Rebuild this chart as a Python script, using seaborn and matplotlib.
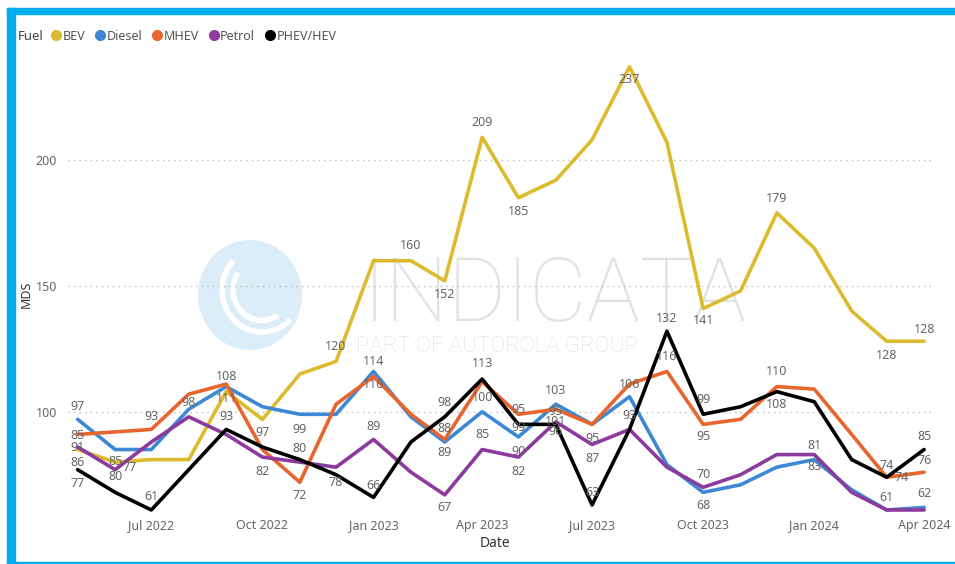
import matplotlib
matplotlib.use("Agg")
import matplotlib.pyplot as plt
import matplotlib.dates as mdates
from matplotlib.lines import Line2D
from matplotlib.patches import Rectangle, Ellipse, Arc
import seaborn as sns
import pandas as pd

# monthly MDS by fuel type, May 2022 - Apr 2024
months = ["2022-05", "2022-06", "2022-07", "2022-08", "2022-09", "2022-10",
          "2022-11", "2022-12", "2023-01", "2023-02", "2023-03", "2023-04",
          "2023-05", "2023-06", "2023-07", "2023-08", "2023-09", "2023-10",
          "2023-11", "2023-12", "2024-01", "2024-02", "2024-03", "2024-04"]
bev = [85, 80, 81, 81, 108, 97, 115, 120, 160, 160, 152, 209,
       185, 192, 208, 237, 207, 141, 148, 179, 165, 140, 128, 128]
diesel = [97, 85, 85, 101, 110, 102, 99, 99, 116, 98, 88, 100,
          90, 103, 95, 106, 79, 68, 71, 78, 81, 69, 61, 62]
mhev = [91, 92, 93, 107, 111, 85, 72, 103, 114, 99, 89, 112,
        99, 101, 95, 111, 116, 95, 97, 110, 109, 91, 74, 76]
petrol = [86, 77, 88, 98, 91, 82, 80, 78, 89, 76, 67, 85,
          82, 96, 87, 93, 78, 70, 75, 83, 83, 68, 61, 61]
phev = [77, 68, 61, 77, 93, 86, 81, 75, 66, 88, 98, 113,
        95, 95, 63, 93, 132, 99, 102, 108, 104, 81, 74, 85]

fuels = ["BEV", "Diesel", "MHEV", "Petrol", "PHEV/HEV"]
colors = {"BEV": "#DCBB2E", "Diesel": "#3C88D4", "MHEV": "#E8652E",
          "Petrol": "#8D3A9E", "PHEV/HEV": "#000000"}

# which points carry a data label, and where the label sits (dx, dy in px, dy down)
labelled = [
    ("Diesel", 0, 0, -13), ("BEV", 0, 0, -14), ("MHEV", 0, 0, 13), ("Petrol", 0, 0, 15),
    ("PHEV/HEV", 0, 0, 14), ("Diesel", 1, 0, 12), ("BEV", 1, 0, 14), ("Petrol", 1, 15, -2),
    ("MHEV", 2, 0, -13), ("PHEV/HEV", 2, 0, -13), ("Petrol", 3, 0, -14),
    ("BEV", 4, 0, -15), ("MHEV", 4, 0, 14), ("PHEV/HEV", 4, 0, -13),
    ("BEV", 5, 0, 13), ("Petrol", 5, 0, 14),
    ("Diesel", 6, 0, 15), ("Petrol", 6, 0, -14), ("MHEV", 6, 0, 13),
    ("BEV", 7, 0, -15), ("Petrol", 7, 0, 15),
    ("MHEV", 8, 0, -15), ("Diesel", 8, 0, 13), ("Petrol", 8, 0, -13), ("PHEV/HEV", 8, 0, -12),
    ("BEV", 9, 0, -15),
    ("BEV", 10, 0, 14), ("PHEV/HEV", 10, 0, -14), ("Diesel", 10, 0, -13),
    ("MHEV", 10, 0, 13), ("Petrol", 10, 0, 13),
    ("BEV", 11, 0, -15), ("PHEV/HEV", 11, 0, -16), ("Diesel", 11, 0, -14), ("Petrol", 11, 0, -15),
    ("BEV", 12, 0, 14), ("PHEV/HEV", 12, 0, -15), ("MHEV", 12, 0, 13),
    ("Diesel", 12, 0, 15), ("Petrol", 12, 0, 14),
    ("Diesel", 13, 0, -14), ("PHEV/HEV", 13, 0, -13), ("MHEV", 13, 0, 12), ("Petrol", 13, 0, 10),
    ("Diesel", 14, 0, 14), ("Petrol", 14, 0, 14), ("PHEV/HEV", 14, 0, -12),
    ("BEV", 15, 0, 13), ("Diesel", 15, 0, -12), ("PHEV/HEV", 15, 0, -14),
    ("PHEV/HEV", 16, 0, -13), ("MHEV", 16, 0, -15),
    ("BEV", 17, 0, 12), ("PHEV/HEV", 17, 0, -15), ("MHEV", 17, 0, 12),
    ("Petrol", 17, 0, -13), ("Diesel", 17, 0, 13),
    ("BEV", 19, 0, -14), ("MHEV", 19, 0, -15), ("PHEV/HEV", 19, 0, 13),
    ("Diesel", 20, 0, -14), ("Petrol", 20, 0, 12),
    ("BEV", 22, 0, 14), ("MHEV", 22, 0, -12), ("PHEV/HEV", 22, 15, 0), ("Petrol", 22, 0, -12),
    ("BEV", 23, 0, -12), ("PHEV/HEV", 23, 0, -13), ("MHEV", 23, 0, -12), ("Diesel", 23, 0, -14),
]

series = dict(zip(fuels, [bev, diesel, mhev, petrol, phev]))
dates = pd.to_datetime(months)
df = pd.concat([pd.DataFrame({"Date": dates, "MDS": vals, "Fuel": f})
                for f, vals in series.items()], ignore_index=True)

sns.set_style("white")
plt.rcParams["font.family"] = ["Noto Sans", "DejaVu Sans"]

W, H = 955, 564
fig = plt.figure(figsize=(W / 100, H / 100), dpi=100)
ax = fig.add_axes([68 / W, 1 - 515 / H, (935 - 68) / W, (515 - 55) / H])

# watermark behind the lines
ax.add_patch(Ellipse((250 / W, 1 - 295 / H), 104 / W, 110 / H, transform=fig.transFigure,
                     facecolor="#DBEDF9", edgecolor="none", zorder=0, clip_on=False))
for r, t1, t2 in [(80, 120, 300), (58, 130, 290)]:
    ax.add_patch(Arc((262 / W, 1 - 290 / H), r / W, r * 1.05 / H, theta1=t1, theta2=t2,
                     transform=fig.transFigure, color="white", lw=4, zorder=0, clip_on=False))
ax.text(555 / W, 1 - 296 / H, "INDICATA", transform=fig.transFigure, fontsize=64,
        color="#E2E2E2", ha="center", va="center", zorder=0, family="Roboto", fontweight="light")
ax.text(497 / W, 1 - 346 / H, "PART OF AUTOROLA GROUP", transform=fig.transFigure,
        fontsize=16, color="#E0E0E0", ha="center", va="center", zorder=0,
        family="Roboto", fontweight="light")

sns.lineplot(data=df, x="Date", y="MDS", hue="Fuel", hue_order=fuels, palette=colors,
             linewidth=2.6, ax=ax, legend=False, zorder=3)

for fuel, i, dx, dy in labelled:
    v = series[fuel][i]
    ax.annotate(str(v), (mdates.date2num(dates[i]), v), xytext=(dx, -dy),
                textcoords="offset pixels", ha="center", va="center",
                fontsize=9, color="#666666", zorder=4)

ax.set_xlim(mdates.date2num(pd.Timestamp("2022-04-23")), mdates.date2num(pd.Timestamp("2024-04-10")))
ax.set_ylim(59, 241.7)
ax.set_yticks([100, 150, 200])
ax.xaxis.set_major_locator(mdates.MonthLocator(bymonth=[1, 4, 7, 10]))
ax.xaxis.set_major_formatter(mdates.DateFormatter("%b %Y"))
ax.tick_params(axis="both", length=0, labelsize=9, labelcolor="#666666")
ax.tick_params(axis="x", pad=3)
ax.tick_params(axis="y", pad=8)
ax.grid(axis="y", linestyle=(0, (1, 3)), color="#BBBBBB", linewidth=1)
ax.grid(axis="x", visible=False)
for s in ax.spines.values():
    s.set_visible(False)
ax.patch.set_alpha(0)

ax.set_ylabel("MDS", fontsize=9, fontweight="bold", color="#333333")
ax.yaxis.set_label_coords(-0.041, 0.48)
ax.set_xlabel("Date", fontsize=10, fontweight="bold", color="#333333")
ax.xaxis.set_label_coords(0.4925, -0.045)
ax.xaxis.label.set_va("top")

# legend row at the top
fig.text(18 / W, 1 - 36 / H, "Fuel", fontsize=9.5, fontweight="bold", color="#444444", va="center")
handles = [Line2D([], [], marker="o", linestyle="", markersize=7, color=colors[f]) for f in fuels]
fig.legend(handles, fuels, ncol=5, loc="center left", bbox_to_anchor=(52 / W, 1 - 36 / H),
           frameon=False, handlelength=0.7, handletextpad=0.15, columnspacing=0.85,
           borderpad=0, borderaxespad=0, fontsize=9, labelcolor="#555555")

# cyan frame
cyan = "#00AEEF"
fig.add_artist(Rectangle((7 / W, 1 - 14 / H), 1, 6 / H, transform=fig.transFigure, color=cyan))
fig.add_artist(Rectangle((7 / W, 0), 8 / W, 1 - 8 / H, transform=fig.transFigure, color=cyan))
fig.add_artist(Rectangle((7 / W, 0), 1, 2.5 / H, transform=fig.transFigure, color=cyan))

fig.savefig("out.png", dpi=100)
